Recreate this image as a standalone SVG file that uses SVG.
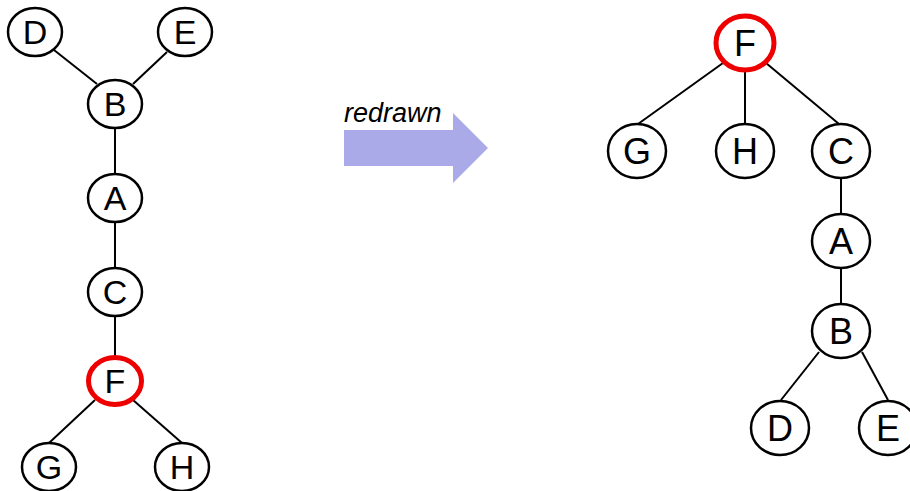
<svg xmlns="http://www.w3.org/2000/svg" width="910" height="491" viewBox="0 0 910 491">
  <style>
    .node ellipse { fill: #ffffff; stroke: #000000; stroke-width: 2.5; }
    .node.root ellipse { stroke: #ee0000; stroke-width: 5; }
    .node text { font-family: "Liberation Sans", Arial, sans-serif; text-anchor: middle; fill: #000000; }
    .small text { font-size: 34px; }
    .large text { font-size: 36px; }
    #edges line { stroke: #000000; stroke-width: 2; }
    .caption { font-family: "Liberation Sans", Arial, sans-serif; font-style: italic; font-size: 27px; fill: #000000; }
  </style>
  <rect width="910" height="491" fill="#ffffff"/>

  <!-- connectors -->
  <g id="edges">
    <!-- left tree -->
    <line x1="54" y1="50" x2="97" y2="84"/>
    <line x1="167" y1="52" x2="133" y2="84"/>
    <line x1="115" y1="127" x2="115" y2="175"/>
    <line x1="115" y1="222" x2="115" y2="268"/>
    <line x1="115" y1="316" x2="115" y2="357"/>
    <line x1="95" y1="400" x2="49" y2="443"/>
    <line x1="133" y1="400" x2="182" y2="443"/>
    <!-- right tree -->
    <line x1="723" y1="63" x2="638" y2="124"/>
    <line x1="745" y1="71" x2="745" y2="124"/>
    <line x1="766" y1="63" x2="839" y2="124"/>
    <line x1="841" y1="178" x2="841" y2="214"/>
    <line x1="841" y1="268" x2="841" y2="304"/>
    <line x1="819" y1="352" x2="781" y2="400"/>
    <line x1="862" y1="352" x2="888" y2="400"/>
  </g>

  <!-- left tree -->
  <g id="L-D" class="node small"><ellipse cx="35" cy="32" rx="27" ry="24"/><text x="35" y="44">D</text></g>
  <g id="L-E" class="node small"><ellipse cx="185" cy="32" rx="27" ry="24"/><text x="185" y="44">E</text></g>
  <g id="L-B" class="node small"><ellipse cx="115" cy="104" rx="27" ry="24"/><text x="115" y="116">B</text></g>
  <g id="L-A" class="node small"><ellipse cx="115" cy="198" rx="27" ry="24"/><text x="115" y="210">A</text></g>
  <g id="L-C" class="node small"><ellipse cx="115" cy="292" rx="27" ry="24"/><text x="115" y="304">C</text></g>
  <g id="L-F" class="node small root"><ellipse cx="115" cy="381" rx="26.5" ry="23.5"/><text x="115" y="393">F</text></g>
  <g id="L-G" class="node small"><ellipse cx="49" cy="467" rx="27" ry="24"/><text x="49" y="479">G</text></g>
  <g id="L-H" class="node small"><ellipse cx="182" cy="467" rx="27" ry="24"/><text x="182" y="479">H</text></g>

  <!-- arrow with caption -->
  <g id="arrow">
    <polygon points="344,130 453,130 453,113 488,148 453,183 453,166 344,166" fill="#aaaae8"/>
    <text class="caption" x="344" y="122">redrawn</text>
  </g>

  <!-- right tree -->
  <g id="R-F" class="node large root"><ellipse cx="745" cy="43" rx="29" ry="27"/><text x="745" y="56">F</text></g>
  <g id="R-G" class="node large"><ellipse cx="637" cy="151" rx="29" ry="27"/><text x="637" y="164">G</text></g>
  <g id="R-H" class="node large"><ellipse cx="745" cy="151" rx="29" ry="27"/><text x="745" y="164">H</text></g>
  <g id="R-C" class="node large"><ellipse cx="841" cy="151" rx="29" ry="27"/><text x="841" y="164">C</text></g>
  <g id="R-A" class="node large"><ellipse cx="841" cy="241" rx="29" ry="27"/><text x="841" y="254">A</text></g>
  <g id="R-B" class="node large"><ellipse cx="841" cy="331" rx="29" ry="27"/><text x="841" y="344">B</text></g>
  <g id="R-D" class="node large"><ellipse cx="780" cy="428" rx="29" ry="27"/><text x="780" y="441">D</text></g>
  <g id="R-E" class="node large"><ellipse cx="888" cy="428" rx="29" ry="27"/><text x="888" y="441">E</text></g>
</svg>
